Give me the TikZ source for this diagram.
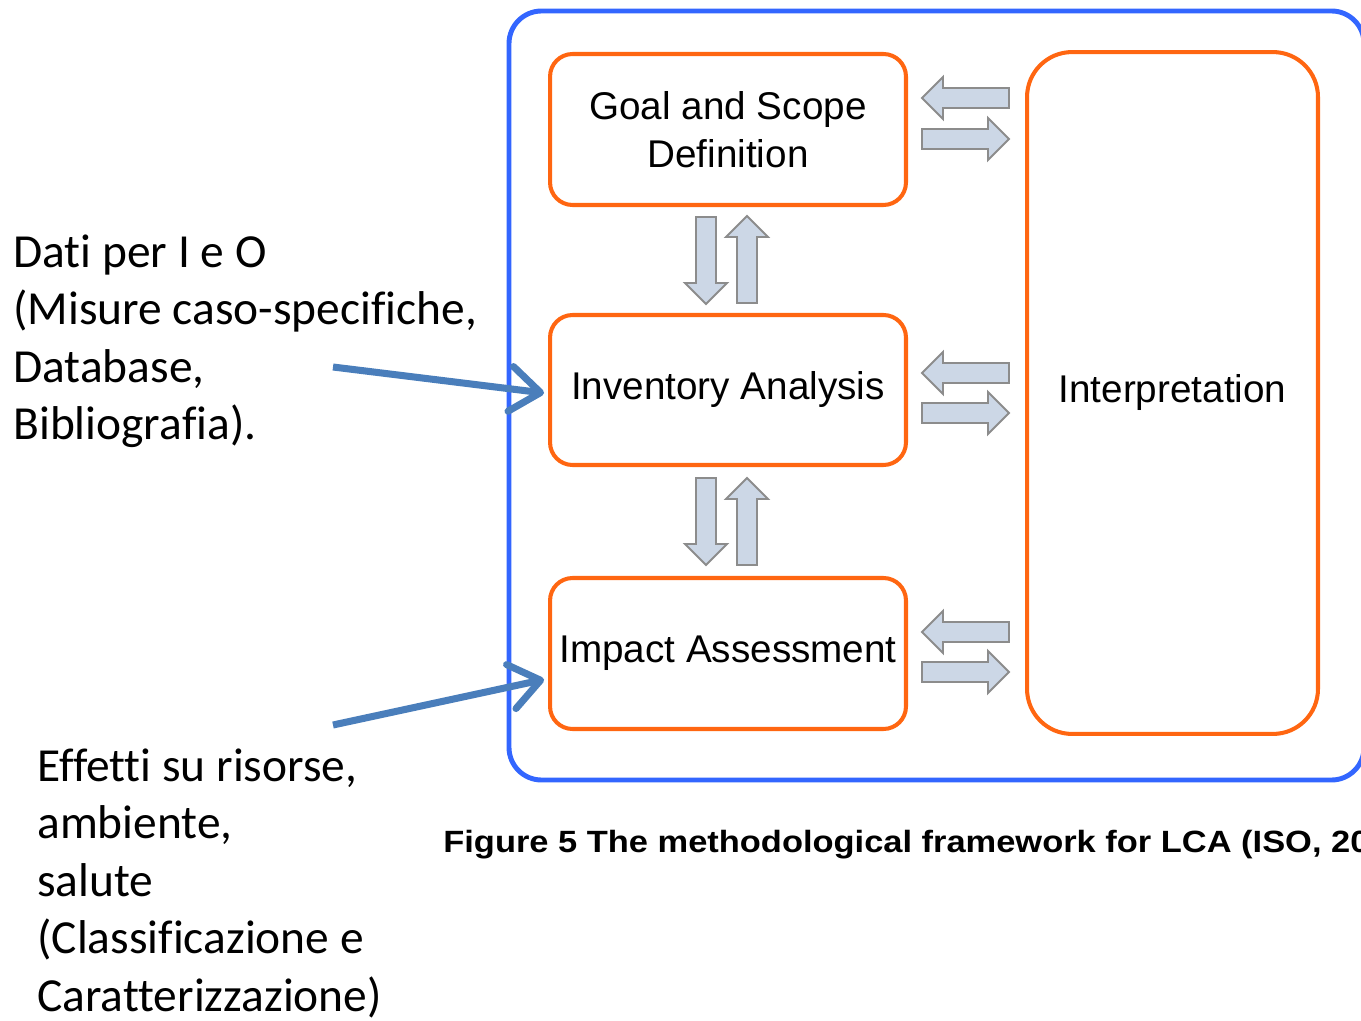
\documentclass[tikz,border=0pt]{standalone}
\usepackage{fontspec}
\setmainfont[Ligatures=NoCommon]{Carlito}
\newfontfamily\boxfont{Liberation Sans}
\newfontfamily\capfont[FakeStretch=1.12]{Liberation Sans}
\usetikzlibrary{arrows.meta,calc}
\definecolor{frameblue}{RGB}{51,102,255}
\definecolor{stageorange}{RGB}{255,102,17}
\definecolor{pointerblue}{RGB}{74,126,187}
\definecolor{flowfill}{RGB}{204,215,230}
\definecolor{flowedge}{RGB}{140,140,140}
\tikzset{
  pics/flow/.style={code={
    \draw[flowedge, fill=flowfill, line width=1.1pt, line join=miter]
      (0,-10) -- (66,-10) -- (66,-21) -- (87,0) -- (66,21) -- (66,10) -- (0,10) -- cycle;}}
}
\begin{document}
\begin{tikzpicture}[x=0.02cm, y=-0.02cm,
  stage/.style={draw=stageorange, line width=2.3pt, rounded corners=0.45cm, inner sep=0pt,
    align=center, font=\boxfont\fontsize{22}{27.5}\selectfont},
  sidetext/.style={inner sep=0pt, align=left, font=\fontsize{27}{32.7}\selectfont},
  pointer/.style={draw=pointerblue, line width=4pt, -{Straight Barb[length=0.6cm, width=0.9cm, round]}}]
\useasboundingbox (0,0) rectangle (1361,1020);
% outer frame
\draw [frameblue, line width=2.8pt, rounded corners=0.65cm] (509,11) rectangle (1364,780);
% stages
\node [stage, minimum width=7.12cm, minimum height=3.02cm] (goal) at (728,129.5) {Goal and Scope\\Definition};
\node [stage, minimum width=7.12cm, minimum height=3cm] (inventory) at (728,390) {Inventory Analysis};
\node [stage, minimum width=7.12cm, minimum height=3.02cm] (impact) at (728,653.5) {Impact Assessment};
\node [stage, rounded corners=0.9cm, minimum width=5.82cm, minimum height=13.64cm] (interp) at (1172.5,393) {Interpretation};
% vertical flows
\pic [rotate=-90] at ($(goal.south)+(-22,10)$) {flow};
\pic [rotate=90] at ($(inventory.north)+(19,-10)$) {flow};
\pic [rotate=-90] at ($(inventory.south)+(-22,11)$) {flow};
\pic [rotate=90] at ($(impact.north)+(19,-11)$) {flow};
% horizontal flows
\foreach \y in {98,373,632}
  \pic [rotate=180] at (1009,\y) {flow};
\foreach \y in {139,413,672}
  \pic at (922,\y) {flow};
% side notes (base = last line)
\node [sidetext, anchor=base west] (datain) at (13,439.5) {Dati per I e O\\(Misure caso-specifiche,\\Database,\\Bibliografia).};
\node [sidetext, anchor=base west] (effects) at (37,1011) {Effetti su risorse,\\ambiente,\\salute\\(Classificazione e\\Caratterizzazione)};
\coordinate (datitail) at (333,367);
\coordinate (effecttail) at (333,725);
\draw [pointer] (datitail) -- ($(inventory.west)+(-4,3)$);
\draw [pointer] (effecttail) -- ($(impact.west)+(-4,26)$);
% caption
\node [inner sep=0pt, anchor=base west, font=\capfont\bfseries\fontsize{17.5}{20}\selectfont] (caption) at (443,852) {Figure 5 The methodological framework for LCA (ISO, 20};
\end{tikzpicture}
\end{document}
